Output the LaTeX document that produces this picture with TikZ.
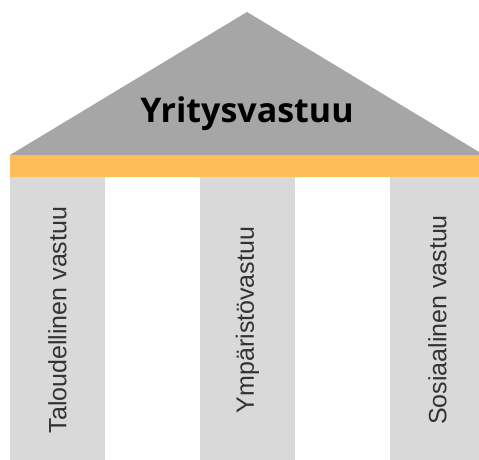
\documentclass[tikz,border=0pt]{standalone}
\usepackage{fontspec}
\setmainfont{Liberation Sans}
\newfontfamily\titlefont{Open Sans}
\usetikzlibrary{positioning}
\definecolor{Roof}{HTML}{A6A6A6}
\definecolor{Beam}{HTML}{FFBD59}
\definecolor{Pillar}{HTML}{D9D9D9}

\begin{document}
\begin{tikzpicture}[x=1pt,y=-1pt,
    pillartext/.style={rotate=90,font=\fontsize{25}{30}\selectfont,text=black!80}]
    \clip (0,0) rectangle (479,460);
    \fill[white] (0,0) rectangle (479,460);
    % roof and beam
    \fill[Roof] (10,155) -- (247,12) -- (484,155) -- cycle;
    \fill[Beam] (10,155) rectangle (484,177);
    \node[anchor=base,font=\titlefont\bfseries\fontsize{34}{40}\selectfont] (title) at (247,122) {Yritysvastuu};
    % pillars
    \fill[Pillar] (10,177) rectangle (105,460);
    \fill[Pillar] (200,177) rectangle (295,460);
    \fill[Pillar] (390,177) rectangle (485,460);
    \node[pillartext] (talous) at (57.5,320) {Taloudellinen vastuu};
    \node[pillartext] (ymparisto) at (247.5,320) {Ympäristövastuu};
    \node[pillartext] (sosiaali) at (437.5,320) {Sosiaalinen vastuu};
  \end{tikzpicture}
\end{document}
